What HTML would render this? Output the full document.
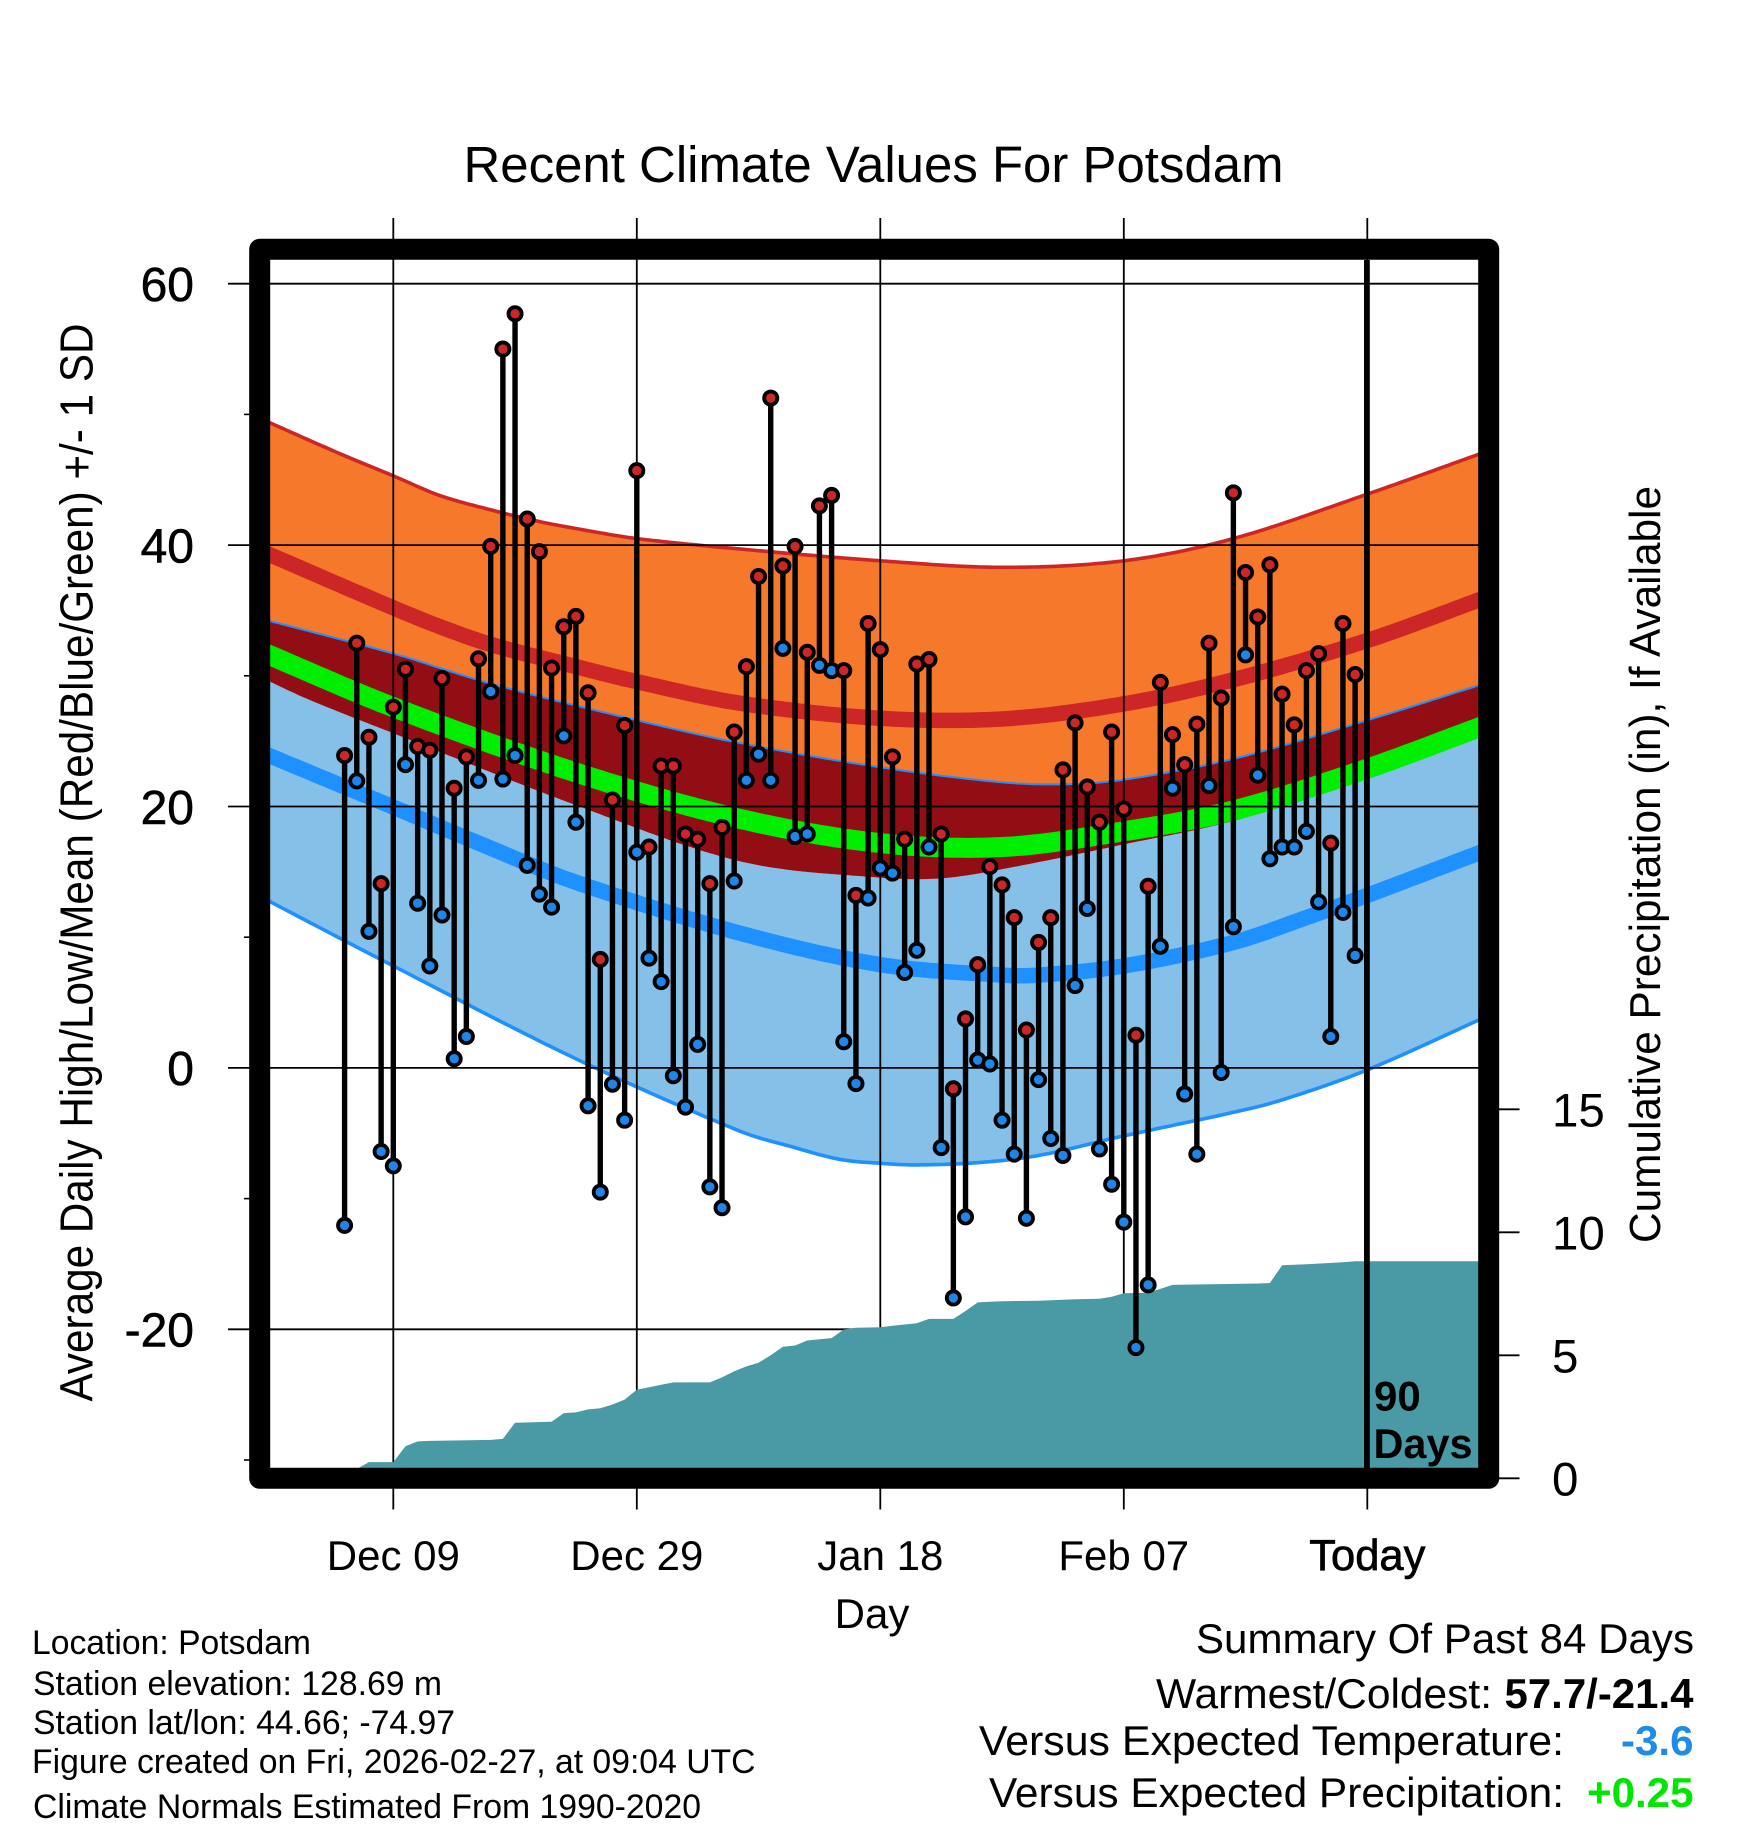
<!DOCTYPE html>
<html lang="en">
<head>
<meta charset="utf-8">
<title>Recent Climate Values For Potsdam</title>
<style>
html,body{margin:0;padding:0;background:#fff;}
svg{display:block;font-family:"Liberation Sans",Arial,Helvetica,sans-serif;}
</style>
</head>
<body>
<svg id="chart" xmlns="http://www.w3.org/2000/svg" width="1748" height="1828" viewBox="0 0 1748 1828">
  <defs>
    <clipPath id="plot-clip"><rect x="260" y="250" width="1229" height="1228"/></clipPath>
  </defs>
  <rect x="0" y="0" width="1748" height="1828" fill="#ffffff"/>
  <text x="873.5" y="182" font-size="51" text-anchor="middle" textLength="820" lengthAdjust="spacingAndGlyphs">Recent Climate Values For Potsdam</text>
  <text transform="translate(92.7 1401.5) rotate(-90)" font-size="46" textLength="1078" lengthAdjust="spacingAndGlyphs">Average Daily High/Low/Mean (Red/Blue/Green) +/- 1 SD</text>
  <text transform="translate(1660 1243) rotate(-90)" font-size="44" textLength="757" lengthAdjust="spacingAndGlyphs">Cumulative Precipitation (in), If Available</text>
  <text x="872" y="1628" font-size="42" text-anchor="middle">Day</text>
  <g id="bands" clip-path="url(#plot-clip)"></g>
  <g id="grid" clip-path="url(#plot-clip)"></g>
  <g id="precip" clip-path="url(#plot-clip)"></g>
  <g id="marks" clip-path="url(#plot-clip)"></g>
  <rect x="1364" y="260" width="5.8" height="1208" fill="#000"/>
  <g id="ticks"></g>
  <rect x="259.7" y="249.3" width="1229" height="1229" fill="none" stroke="#000" stroke-width="21" stroke-linejoin="round"/>
  <g font-weight="bold" font-size="42">
    <text x="1374" y="1410.5">90</text>
    <text x="1373.5" y="1458" textLength="99" lengthAdjust="spacingAndGlyphs">Days</text>
  </g>
  <g font-size="34">
    <text x="32" y="1654" textLength="279" lengthAdjust="spacingAndGlyphs">Location: Potsdam</text>
    <text x="33" y="1695" textLength="409" lengthAdjust="spacingAndGlyphs">Station elevation: 128.69 m</text>
    <text x="33" y="1734" textLength="422" lengthAdjust="spacingAndGlyphs">Station lat/lon: 44.66; -74.97</text>
    <text x="32" y="1773" textLength="723.5" lengthAdjust="spacingAndGlyphs">Figure created on Fri, 2026-02-27, at 09:04 UTC</text>
    <text x="33" y="1818" textLength="668" lengthAdjust="spacingAndGlyphs">Climate Normals Estimated From 1990-2020</text>
  </g>
  <g font-size="42">
    <text x="1196" y="1653" textLength="498" lengthAdjust="spacingAndGlyphs">Summary Of Past 84 Days</text>
    <text x="1156" y="1708" textLength="336" lengthAdjust="spacingAndGlyphs">Warmest/Coldest:</text>
    <text x="1504.5" y="1708" font-weight="bold" textLength="189" lengthAdjust="spacingAndGlyphs">57.7/-21.4</text>
    <text x="979" y="1755" textLength="585" lengthAdjust="spacingAndGlyphs">Versus Expected Temperature:</text>
    <text x="1621" y="1755" font-weight="bold" fill="#1e8ce8" textLength="72.5" lengthAdjust="spacingAndGlyphs">-3.6</text>
    <text x="989" y="1807" textLength="575" lengthAdjust="spacingAndGlyphs">Versus Expected Precipitation:</text>
    <text x="1587" y="1807" font-weight="bold" fill="#00e600" textLength="106.5" lengthAdjust="spacingAndGlyphs">+0.25</text>
  </g>
</svg>
<script>
/* Temperature ticks and date ticks */
const tempMajorTicks = [60, 40, 20, 0, -20];
const tempTickLabels = ['60', '40', '20', '0', '-20'];
const tempMinorTicks = [50, 30, 10, -10, -30];
const dateTickDays = [0, 20, 40, 60, 80];
const dateTickLabels = ['Dec 09', 'Dec 29', 'Jan 18', 'Feb 07', 'Today'];
const precipTicks = [0, 5, 10, 15];
const precipTickLabels = ['0', '5', '10', '15'];

/* Climate normals: day offset from Dec 09, degrees F */
const highPlusSdDays = [-10.6, -4.4, 0, 3.8, 8, 12, 14.8, 20, 28.5, 40, 50, 60, 69, 80, 89.6];
const highPlusSdValues = [49.55, 47.0, 45.3, 43.8, 42.7, 41.8, 41.3, 40.5, 39.7, 38.8, 38.3, 38.8, 40.5, 43.9, 47.1];
const highMeanDays = [-10.6, 0, 4, 8, 14.8, 20, 28.5, 40, 50, 60, 69, 80, 89.6];
const highMeanValues = [39.45, 35.2, 33.7, 32.4, 30.75, 29.55, 27.9, 26.75, 26.7, 27.85, 29.7, 32.7, 35.95];
const highMinusSdDays = [-10.6, 0, 8, 20, 28.5, 40, 50, 55, 60, 69, 80, 89.6];
const highMinusSdValues = [34.3, 31.7, 29.4, 26.6, 24.85, 23.0, 21.85, 21.7, 22.05, 23.65, 26.6, 29.4];
const meanDays = [-10.6, 0, 15, 28.5, 40, 50, 60, 69, 80, 89.6];
const meanValues = [31.75, 27.6, 22.6, 19.05, 17.2, 16.9, 18.1, 19.7, 22.9, 26.2];
const lowPlusSdDays = [-10.6, -7, 0, 15, 28.5, 40, 45, 50, 60, 69, 80, 89.6];
const lowPlusSdValues = [29.75, 28.2, 25.6, 20.1, 15.8, 14.55, 14.5, 15.2, 17.1, 18.9, 22.1, 25.4];
const lowMeanDays = [-10.6, 0, 7, 15, 28.5, 40, 50, 53, 60, 69, 75, 80, 89.6];
const lowMeanValues = [24.05, 19.95, 17.2, 14.2, 10.3, 7.9, 7.1, 7.1, 7.8, 9.6, 11.5, 13.2, 16.6];
const lowMinusSdDays = [-10.6, 0, 15, 28.5, 32.6, 36.7, 40, 43, 48, 53, 60, 69, 73, 80, 89.6];
const lowMinusSdValues = [12.95, 7.8, 0.7, -4.85, -6.0, -7.0, -7.3, -7.42, -7.25, -6.7, -5.2, -3.4, -2.45, -0.15, 3.85];

/* Daily observations, first value is day offset -4, last is day offset 79 */
const firstObservationDay = -4;
const dailyHighs = [23.9, 32.5, 25.3, 14.1, 27.6, 30.5, 24.6, 24.3, 29.8, 21.4, 23.8, 31.3, 39.9, 55, 57.7, 42, 39.5, 30.6, 33.75, 34.55, 28.7, 8.3, 20.5, 26.2, 45.7, 16.9, 23.1, 23.1, 17.9, 17.5, 14.1, 18.4, 25.7, 30.7, 37.6, 51.25, 38.4, 39.9, 31.8, 43, 43.8, 30.4, 13.2, 34, 32, 23.8, 17.5, 30.9, 31.25, 17.9, -1.6, 3.75, 7.9, 15.4, 14, 11.5, 2.9, 9.6, 11.5, 22.8, 26.4, 21.5, 18.8, 25.7, 19.8, 2.5, 13.9, 29.5, 25.5, 23.2, 26.3, 32.5, 28.3, 44, 37.9, 34.5, 38.5, 28.6, 26.25, 30.4, 31.7, 17.2, 34, 30.1];
const dailyLows = [-12.05, 21.96, 10.45, -6.4, -7.5, 23.2, 12.6, 7.8, 11.7, 0.7, 2.4, 22, 28.8, 22.1, 23.9, 15.5, 13.3, 12.3, 25.4, 18.8, -2.9, -9.5, -1.25, -4, 16.5, 8.4, 6.6, -0.6, -3, 1.8, -9.1, -10.7, 14.3, 22, 24, 22, 32.1, 17.7, 17.9, 30.8, 30.4, 2, -1.2, 13, 15.3, 14.9, 7.3, 9, 16.9, -6.1, -17.6, -11.4, 0.6, 0.3, -4, -6.6, -11.5, -0.9, -5.4, -6.7, 6.3, 12.2, -6.2, -8.9, -11.8, -21.4, -16.6, 9.3, 21.4, -2, -6.6, 21.6, -0.35, 10.8, 31.6, 22.4, 16, 16.9, 16.9, 18.1, 12.7, 2.4, 11.9, 8.6];

/* Cumulative precipitation in inches */
const precipDays = [-4, -3, -2, -1, 0, 1, 2, 3, 8, 9, 10, 13, 14, 15, 16, 17, 18, 19, 20, 21, 22, 23, 26, 27, 28, 29, 30, 31, 32, 33, 34, 35, 36, 37, 38, 40, 41, 42, 43, 44, 46, 47, 48, 49, 50, 53, 54, 56, 58, 59, 60, 62, 63, 64, 71, 72, 73, 75, 78, 79, 90];
const precipInches = [0, 0.38, 0.66, 0.66, 0.66, 1.3, 1.5, 1.52, 1.56, 1.6, 2.26, 2.3, 2.65, 2.68, 2.8, 2.85, 3.0, 3.2, 3.6, 3.7, 3.8, 3.9, 3.9, 4.1, 4.35, 4.55, 4.7, 5.0, 5.35, 5.4, 5.6, 5.65, 5.7, 6.05, 6.12, 6.14, 6.2, 6.25, 6.3, 6.48, 6.48, 6.8, 7.15, 7.18, 7.2, 7.22, 7.24, 7.28, 7.3, 7.38, 7.52, 7.55, 7.7, 7.86, 7.92, 7.94, 8.66, 8.7, 8.78, 8.82, 8.82];

const SVG_NS = 'http://www.w3.org/2000/svg';
const xScale = d => 393.3 + 12.175 * d;
const yScale = v => 1067.9 - 13.07 * v;
const precipScale = p => 1478.3 - 24.6 * p;

function make(parent, tag, attrs, text) {
  const el = document.createElementNS(SVG_NS, tag);
  for (const k in attrs) el.setAttribute(k, attrs[k]);
  if (text !== undefined) el.textContent = text;
  parent.appendChild(el);
  return el;
}

function curveSampler(days, vals) {
  const n = days.length;
  const slope = i => {
    const a = Math.max(0, i - 1), b = Math.min(n - 1, i + 1);
    return (vals[b] - vals[a]) / (days[b] - days[a]);
  };
  return d => {
    let i = 0;
    while (i < n - 2 && d > days[i + 1]) i++;
    const h = days[i + 1] - days[i];
    const t = Math.min(1, Math.max(0, (d - days[i]) / h));
    const t2 = t * t, t3 = t2 * t;
    return (2 * t3 - 3 * t2 + 1) * vals[i] + (t3 - 2 * t2 + t) * h * slope(i) +
           (-2 * t3 + 3 * t2) * vals[i + 1] + (t3 - t2) * h * slope(i + 1);
  };
}

const curveGrid = [];
for (let d = -10.6; d <= 89.6001; d += 0.4) curveGrid.push(d);

function pointsFor(days, vals) {
  const f = curveSampler(days, vals);
  return curveGrid.map(d => xScale(d).toFixed(1) + ',' + yScale(f(d)).toFixed(1));
}

const bandsLayer = document.getElementById('bands');
const gridLayer = document.getElementById('grid');
const precipLayer = document.getElementById('precip');
const marksLayer = document.getElementById('marks');
const ticksLayer = document.getElementById('ticks');

const highTop = pointsFor(highPlusSdDays, highPlusSdValues);
const highBottom = pointsFor(highMinusSdDays, highMinusSdValues);
const lowTop = pointsFor(lowPlusSdDays, lowPlusSdValues);
const lowBottom = pointsFor(lowMinusSdDays, lowMinusSdValues);

const orangeBand = make(bandsLayer, 'polygon', {points: highTop.concat(highBottom.slice().reverse()).join(' '), fill: '#f6792b'});



const blueBand = make(bandsLayer, 'polygon', {points: lowTop.concat(lowBottom.slice().reverse()).join(' '), fill: '#84c0e8'});



const overlapBand = make(bandsLayer, 'polygon', {points: highBottom.concat(lowTop.slice().reverse()).join(' '), fill: '#930e14'});



const highTopLine = make(bandsLayer, 'polyline', {points: highTop.join(' '), fill: 'none', stroke: '#cd2626', 'stroke-width': 3.6});



const highMeanLine = make(bandsLayer, 'polyline', {points: pointsFor(highMeanDays, highMeanValues).join(' '), fill: 'none', stroke: '#cd2626', 'stroke-width': 15.5});



const meanLine = make(bandsLayer, 'polyline', {points: pointsFor(meanDays, meanValues).join(' '), fill: 'none', stroke: '#00ee00', 'stroke-width': 20});



const lowMeanLine = make(bandsLayer, 'polyline', {points: pointsFor(lowMeanDays, lowMeanValues).join(' '), fill: 'none', stroke: '#1e90ff', 'stroke-width': 15.5});



const highBottomLine = make(bandsLayer, 'polyline', {points: highBottom.join(' '), fill: 'none', stroke: '#1e90ff', 'stroke-width': 2});



const lowBottomLine = make(bandsLayer, 'polyline', {points: lowBottom.join(' '), fill: 'none', stroke: '#1e90ff', 'stroke-width': 3.6});



tempMajorTicks.forEach((v, i) => {
  const y = yScale(v);
  const gridLine = make(gridLayer, 'line', {x1: 260, x2: 1490, y1: y, y2: y, stroke: '#000', 'stroke-width': 1.8});
  
  
  const tick = make(ticksLayer, 'line', {x1: 228, x2: 250, y1: y, y2: y, stroke: '#000', 'stroke-width': 1.8});
  
  
  const label = make(ticksLayer, 'text', {x: 194, y: y + 17.3, 'font-size': 48, 'text-anchor': 'end', stroke: '#000', 'stroke-width': 0.6}, tempTickLabels[i]);
  
  
});

tempMinorTicks.forEach(v => {
  const y = yScale(v);
  const tick = make(ticksLayer, 'line', {x1: 244, x2: 250, y1: y, y2: y, stroke: '#000', 'stroke-width': 1.6});
  
  
});

dateTickDays.forEach((d, i) => {
  const x = xScale(d);
  const gridLine = make(gridLayer, 'line', {x1: x, x2: x, y1: 250, y2: 1478, stroke: '#000', 'stroke-width': 1.8});
  
  
  const topTick = make(ticksLayer, 'line', {x1: x, x2: x, y1: 218, y2: 250, stroke: '#000', 'stroke-width': 1.8});
  
  
  const bottomTick = make(ticksLayer, 'line', {x1: x, x2: x, y1: 1478, y2: 1509.5, stroke: '#000', 'stroke-width': 1.8});
  
  
  const isToday = dateTickLabels[i] === 'Today';
  const label = make(ticksLayer, 'text', {x: x, y: 1570, 'font-size': isToday ? 43.5 : 42, 'text-anchor': 'middle'}, dateTickLabels[i]);
  if (isToday) { label.setAttribute('stroke', '#000'); label.setAttribute('stroke-width', '0.7'); }
  
  
});

precipTicks.forEach((p, i) => {
  const y = precipScale(p);
  const tick = make(ticksLayer, 'line', {x1: 1489, x2: 1519.5, y1: y, y2: y, stroke: '#000', 'stroke-width': 1.8});
  
  
  const label = make(ticksLayer, 'text', {x: 1552, y: y + 17, 'font-size': 47.5}, precipTickLabels[i]);
  
  
});

const precipPoints = precipDays.map((d, i) => xScale(d).toFixed(1) + ',' + precipScale(precipInches[i]).toFixed(1));
precipPoints.push(xScale(precipDays[precipDays.length - 1]).toFixed(1) + ',' + precipScale(0).toFixed(1));
precipPoints.push(xScale(precipDays[0]).toFixed(1) + ',' + precipScale(0).toFixed(1));
const precipArea = make(precipLayer, 'polygon', {points: precipPoints.join(' '), fill: '#4a9aa5'});



dailyHighs.forEach((high, i) => {
  const low = dailyLows[i];
  const x = xScale(firstObservationDay + i);
  const stem = make(marksLayer, 'line', {x1: x, x2: x, y1: yScale(high), y2: yScale(low), stroke: '#000', 'stroke-width': 5.4});
  
  
  const highDot = make(marksLayer, 'circle', {cx: x, cy: yScale(high), r: 6.6, fill: '#cd2626', stroke: '#000', 'stroke-width': 3.8});
  
  
  const lowDot = make(marksLayer, 'circle', {cx: x, cy: yScale(low), r: 6.6, fill: '#1e86e8', stroke: '#000', 'stroke-width': 3.8});
  
  
});
</script>
</body>
</html>
